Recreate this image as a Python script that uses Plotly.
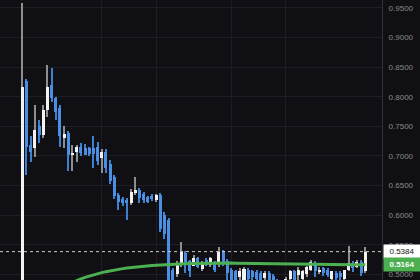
import plotly.graph_objects as go

# OHLC data (index = candle number)
opens = [0.470, 0.826, 0.718, 0.714, 0.750, 0.736, 0.778, 0.820, 0.798, 0.781,
         0.731, 0.739, 0.702, 0.706, 0.716, 0.713, 0.713, 0.713, 0.716, 0.696,
         0.706, 0.687, 0.665, 0.634, 0.627, 0.626, 0.620, 0.637, 0.643, 0.636,
         0.630, 0.632, 0.626, 0.634, 0.600, 0.592, 0.507, 0.500, 0.516, 0.536,
         0.522, 0.514, 0.527, 0.509, 0.524, 0.516, 0.519, 0.518, 0.539, 0.523,
         0.507, 0.505, 0.496, 0.490, 0.507, 0.505, 0.504, 0.503, 0.494, 0.503,
         0.497, 0.486, 0.478, 0.486, 0.492, 0.505, 0.499, 0.492, 0.500, 0.507,
         0.519, 0.504, 0.510, 0.507, 0.493, 0.503, 0.503, 0.493, 0.508, 0.520,
         0.513, 0.521, 0.506]
highs = [0.958, 0.830, 0.733, 0.786, 0.761, 0.786, 0.854, 0.849, 0.800, 0.786,
         0.750, 0.742, 0.718, 0.719, 0.722, 0.720, 0.716, 0.733, 0.724, 0.712,
         0.712, 0.694, 0.668, 0.637, 0.630, 0.629, 0.645, 0.664, 0.646, 0.640,
         0.633, 0.635, 0.636, 0.637, 0.605, 0.595, 0.510, 0.523, 0.555, 0.540,
         0.525, 0.532, 0.530, 0.522, 0.528, 0.530, 0.522, 0.547, 0.542, 0.526,
         0.510, 0.508, 0.510, 0.512, 0.510, 0.508, 0.507, 0.506, 0.506, 0.506,
         0.500, 0.492, 0.491, 0.495, 0.508, 0.507, 0.512, 0.508, 0.515, 0.524,
         0.523, 0.513, 0.512, 0.510, 0.506, 0.506, 0.506, 0.508, 0.548, 0.523,
         0.524, 0.524, 0.546]
lows = [0.465, 0.668, 0.690, 0.699, 0.722, 0.730, 0.766, 0.792, 0.761, 0.716,
        0.713, 0.674, 0.674, 0.690, 0.700, 0.702, 0.700, 0.679, 0.684, 0.671,
        0.672, 0.652, 0.628, 0.609, 0.615, 0.592, 0.617, 0.634, 0.620, 0.620,
        0.620, 0.624, 0.622, 0.572, 0.560, 0.470, 0.470, 0.495, 0.513, 0.502,
        0.496, 0.514, 0.510, 0.505, 0.515, 0.513, 0.504, 0.513, 0.515, 0.490,
        0.480, 0.480, 0.490, 0.485, 0.490, 0.490, 0.488, 0.480, 0.488, 0.480,
        0.475, 0.470, 0.470, 0.480, 0.486, 0.485, 0.490, 0.488, 0.496, 0.505,
        0.496, 0.500, 0.498, 0.495, 0.488, 0.486, 0.490, 0.488, 0.505, 0.504,
        0.510, 0.498, 0.502]
closes = [0.816, 0.716, 0.707, 0.744, 0.736, 0.778, 0.817, 0.798, 0.775, 0.733,
          0.737, 0.702, 0.705, 0.716, 0.705, 0.702, 0.704, 0.704, 0.692, 0.706,
          0.680, 0.658, 0.633, 0.622, 0.621, 0.620, 0.640, 0.642, 0.629, 0.626,
          0.623, 0.627, 0.634, 0.577, 0.568, 0.480, 0.485, 0.517, 0.537, 0.519,
          0.505, 0.527, 0.513, 0.521, 0.516, 0.527, 0.507, 0.538, 0.521, 0.502,
          0.490, 0.490, 0.505, 0.509, 0.493, 0.496, 0.493, 0.490, 0.503, 0.490,
          0.485, 0.480, 0.488, 0.492, 0.505, 0.491, 0.507, 0.505, 0.513, 0.521,
          0.505, 0.508, 0.502, 0.499, 0.505, 0.494, 0.495, 0.507, 0.519, 0.510,
          0.521, 0.502, 0.5384]
ma = [None] * 11 + [
    0.4830, 0.4865, 0.4895, 0.4925, 0.4950, 0.4972, 0.4993, 0.5012, 0.5030,
    0.5046, 0.5061, 0.5074, 0.5086, 0.5097, 0.5107, 0.5116, 0.5124, 0.5131,
    0.5138, 0.5144, 0.5150, 0.5155, 0.5160, 0.5164, 0.5168, 0.5172, 0.5175,
    0.5178, 0.5181, 0.5183, 0.5185, 0.5187, 0.5188, 0.5189, 0.5190, 0.5191,
    0.5191, 0.5192, 0.5192, 0.5191, 0.5190, 0.5189, 0.5188, 0.5187, 0.5185,
    0.5183, 0.5181, 0.5179, 0.5177, 0.5175, 0.5173, 0.5171, 0.5169, 0.5167,
    0.5165, 0.5163, 0.5162, 0.5161, 0.5160, 0.5159, 0.5158, 0.5158, 0.5157,
    0.5157, 0.5157, 0.5158, 0.5159, 0.5160, 0.5161, 0.5162, 0.5163, 0.5164]
y_ticks = [0.50, 0.55, 0.60, 0.65, 0.70, 0.75, 0.80, 0.85, 0.90, 0.95]
x_grid = [19, 32, 50, 63]
last_price = 0.5384
last_ma = 0.5164

UP_BODY = "#f2f2f2"
UP_WICK = "#8e8e8e"
DN_BODY = "#4a8fe3"
DN_WICK = "#3f7fd0"
BG = "#101014"
GRID = "#1d1d23"

idx = list(range(len(opens)))
up = [c >= o for o, c in zip(opens, closes)]

fig = go.Figure()
# wicks
fig.add_trace(go.Bar(
    x=idx, base=lows, y=[h - l for h, l in zip(highs, lows)],
    width=0.26, marker=dict(color=[UP_WICK if u else DN_WICK for u in up], line=dict(width=0)),
    hoverinfo="skip", showlegend=False))
# bodies
fig.add_trace(go.Bar(
    x=idx, base=[min(o, c) for o, c in zip(opens, closes)],
    y=[max(abs(c - o), 0.0018) for o, c in zip(opens, closes)],
    width=0.72, marker=dict(color=[UP_BODY if u else DN_BODY for u in up], line=dict(width=0)),
    hoverinfo="skip", showlegend=False))
# moving average
fig.add_trace(go.Scatter(x=idx, y=ma, mode="lines",
                         line=dict(color="#4cb050", width=3), showlegend=False))

fig.add_shape(type="line", xref="paper", x0=0, x1=1, yref="y", y0=last_price, y1=last_price,
              line=dict(color="#c8c8c8", width=1, dash="dot"))

fig.add_annotation(xref="paper", x=1, xanchor="left", xshift=1, yref="y", y=last_price,
                   text=f"{last_price:.4f}", showarrow=False, bgcolor="#ffffff",
                   font=dict(family="Liberation Sans", size=8, color="#131313"),
                   width=34, height=11, borderpad=1, align="center")
fig.add_annotation(xref="paper", x=1, xanchor="left", xshift=1, yref="y", y=last_ma,
                   text=f"<b>{last_ma:.4f}</b>", showarrow=False, bgcolor="#4caf50",
                   font=dict(family="Liberation Sans", size=8, color="#ffffff"),
                   width=34, height=11, borderpad=1, align="center")

fig.update_layout(
    width=420, height=280, margin=dict(l=0, r=38, t=0, b=0),
    paper_bgcolor=BG, plot_bgcolor=BG, barmode="overlay", bargap=0,
    xaxis=dict(range=[-5.33, 85.99], tickvals=x_grid, showticklabels=False,
               showgrid=True, gridcolor=GRID, gridwidth=1, zeroline=False, fixedrange=True),
    yaxis=dict(range=[0.4905, 0.9635], side="right", tickvals=y_ticks, tickformat=".4f",
               tickfont=dict(family="Liberation Sans", size=8, color="#8a8a8a"),
               showgrid=True, gridcolor=GRID, gridwidth=1, zeroline=False,
               showline=True, linecolor="#303036", linewidth=1, ticks="",
               ticklabelstandoff=4),
)

fig.write_html("out.html")
